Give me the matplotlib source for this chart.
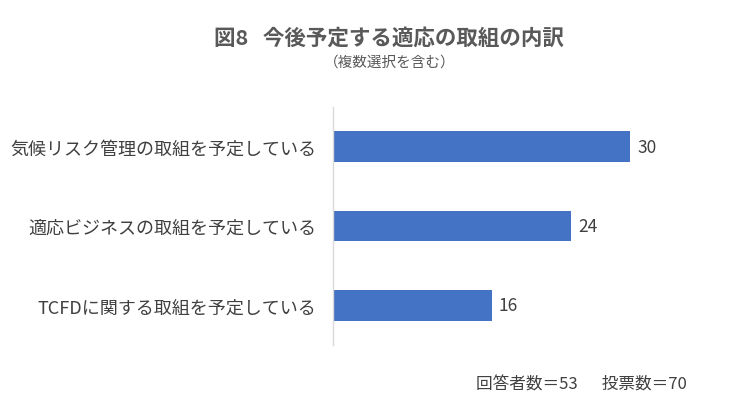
import numpy as np
from matplotlib import pyplot as plt

plt.rcParams['font.family'] = ['Noto Sans CJK JP', 'DejaVu Sans']

# data (top to bottom)
categories = ['気候リスク管理の取組を予定している',
              '適応ビジネスの取組を予定している',
              'TCFDに関する取組を予定している']
values = [30, 24, 16]

title = '図8   今後予定する適応の取組の内訳'
subtitle = '（複数選択を含む）'
note = '回答者数＝53\u3000  投票数＝70'

barColor = '#4472C4'
textColor = '#404040'

fig = plt.figure(figsize=(7.5, 4.14), dpi=100)
ax = fig.add_axes([0.444, 0.1643, 0.4627, 0.5749])

ypos = np.arange(len(categories))
bars = ax.barh(ypos, values, height=0.39, color=barColor)
ax.set_ylim(len(categories) - 0.5, -0.5)
ax.set_xlim(0, 35)

ax.set_yticks(ypos)
ax.set_yticklabels(categories, fontsize=13, color=textColor)
ax.tick_params(axis='y', length=0, pad=12)
ax.set_xticks([])

for spine in ['top', 'right', 'bottom']:
	ax.spines[spine].set_visible(False)
ax.spines['left'].set_color('#d9d9d9')
ax.spines['left'].set_linewidth(1.0)

for b, v in zip(bars, values):
	ax.text(b.get_width() + 0.7, b.get_y() + b.get_height() / 2, str(v),
		va='center', ha='left', fontsize=12.5, color=textColor)

fig.text(0.518, 0.907, title, ha='center', va='center', fontsize=15.5,
	fontweight='bold', color='#595959')
fig.text(0.52, 0.85, subtitle, ha='center', va='center', fontsize=10.5,
	color='#595959')
fig.text(0.916, 0.07, note, ha='right', va='center', fontsize=12,
	color=textColor)

plt.savefig('out.png', dpi=100, facecolor='white')
